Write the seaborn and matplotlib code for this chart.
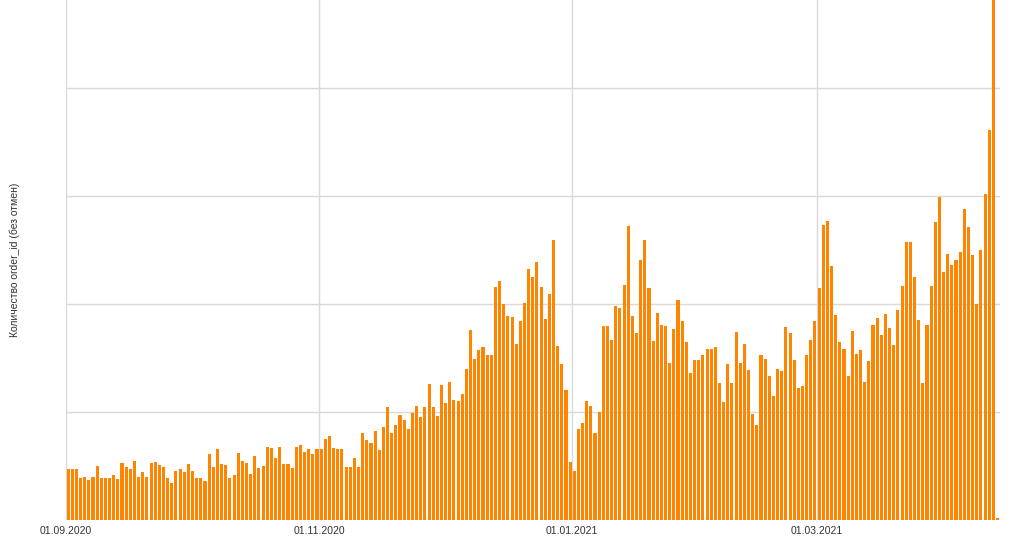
import numpy as np
import pandas as pd
import seaborn as sns
import matplotlib.pyplot as plt

# daily order counts, starting 01.09.2020
orders_per_day = [
    47, 47, 47, 39, 40, 37, 40, 50, 39, 39, 39, 42, 38, 53, 49, 47, 55, 40, 44, 40,
    53, 54, 51, 49, 39, 34, 45, 47, 44, 52, 45, 39, 39, 36, 61, 49, 66, 52, 51, 39,
    42, 62, 55, 53, 43, 59, 48, 50, 68, 67, 57, 68, 52, 52, 48, 68, 69, 63, 66, 61,
    66, 66, 75, 78, 67, 66, 66, 49, 49, 57, 49, 81, 74, 71, 82, 65, 86, 105, 81, 88,
    97, 93, 84, 99, 106, 95, 105, 126, 105, 96, 125, 108, 128, 111, 110, 117, 140, 176, 149, 157,
    160, 153, 153, 216, 221, 200, 189, 188, 163, 184, 201, 232, 225, 239, 216, 186, 209, 259, 161, 144,
    120, 54, 45, 84, 90, 110, 106, 81, 100, 180, 180, 167, 198, 196, 218, 272, 189, 173, 241, 259,
    215, 166, 192, 181, 180, 145, 177, 204, 184, 165, 136, 148, 148, 153, 158, 158, 160, 127, 109, 144,
    127, 174, 145, 163, 139, 98, 88, 153, 149, 133, 115, 140, 138, 179, 173, 148, 122, 124, 153, 167,
    184, 215, 273, 277, 235, 190, 165, 158, 133, 175, 154, 157, 128, 147, 181, 187, 171, 191, 178, 162,
    194, 217, 257, 257, 225, 185, 127, 181, 217, 276, 299, 230, 246, 236, 241, 248, 288, 271, 245, 200,
    250, 302, 361, 486, 2,
]
start_date = '2020-09-01'
tick_dates = ['2020-09-01', '2020-11-01', '2021-01-01', '2021-03-01']
y_ticks = [0, 100, 200, 300, 400]
y_label = 'Количество order_id (без отмен)'

dates = pd.date_range(start_date, periods=len(orders_per_day), freq='D')
df = pd.DataFrame({'day': np.arange(len(orders_per_day)), 'orders': orders_per_day})

sns.set_theme(style='whitegrid')
plt.rcParams['font.family'] = ['Liberation Sans', 'DejaVu Sans']

fig = plt.figure(figsize=(10.24, 5.38), dpi=100)
ax = fig.add_axes([66 / 1024, 18 / 538, 934 / 1024, 520 / 538])

sns.barplot(data=df, x='day', y='orders', native_scale=True, color='#ff8400',
            saturation=1, width=0.74, errorbar=None, linewidth=0, ax=ax)

# date ticks sit on the left edge of each day's bar
tick_pos = [(pd.Timestamp(d) - dates[0]).days - 0.5 for d in tick_dates]
tick_lbl = [pd.Timestamp(d).strftime('%d.%m.%Y') for d in tick_dates]
ax.set_xticks(tick_pos)
ax.set_xticklabels(tick_lbl, fontsize=7.5, color='#333333')
ax.set_yticks(y_ticks)
ax.set_yticklabels([])

ax.set_xlim(-0.5, len(orders_per_day) - 0.4)
ax.set_ylim(0, 520 / 1.08)

ax.grid(True, axis='both', color='#d9d9d9', linewidth=1)
ax.set_axisbelow(True)
ax.tick_params(length=0, pad=4)
for s in ax.spines.values():
    s.set_visible(False)

ax.set_xlabel('')
ax.set_ylabel(y_label, fontsize=7.5, color='#333333')
ax.yaxis.set_label_coords(-0.049, 0.5)

fig.savefig('out.png', dpi=100)
